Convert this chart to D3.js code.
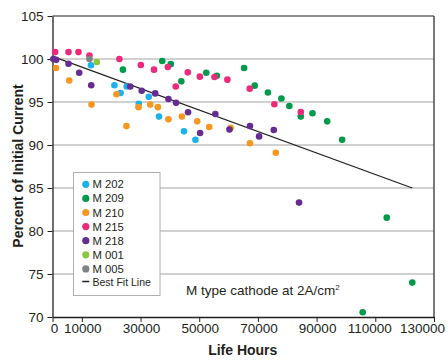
<!DOCTYPE html>
<html><head><meta charset="utf-8">
<script src="https://cdn.jsdelivr.net/npm/d3@7"></script>
<style>
html,body{margin:0;padding:0;background:#fff;}
svg{display:block;font-family:"Liberation Sans",Arial,Helvetica,sans-serif;}
</style></head>
<body>
<svg id="chart" width="448" height="360"></svg>
<script>
const seriesNames = ["M 202","M 209","M 210","M 215","M 218","M 001","M 005"];
const seriesColors = ["#1cb1ec","#009b4a","#f7971f","#ec2a7b","#652d90","#8cc63f","#808285"];
const m202 = [[13100,99.27],[21100,96.94],[23200,96.05],[25300,96.8],[29400,94.8],[32800,95.6],[36300,93.3],[44800,91.6],[48700,90.6]];
const m209 = [[24000,98.76],[37400,99.77],[40300,99.4],[43900,97.4],[52400,98.4],[56000,98.06],[65300,98.95],[68900,96.9],[73400,96.1],[78000,95.4],[80700,94.53],[84600,93.3],[88600,93.7],[93600,92.75],[98700,90.6],[105700,70.55],[113900,81.55],[122600,74.0]];
const m210 = [[1200,98.95],[5700,97.5],[13300,94.7],[21800,95.9],[25200,92.2],[29300,94.4],[33300,94.7],[35900,94.4],[39500,93.0],[44100,93.3],[49300,92.75],[53400,92.1],[60700,92.0],[67300,90.2],[76100,89.1]];
const m215 = [[900,100.8],[5450,100.8],[8850,100.8],[12600,100.4],[22800,100.0],[30100,99.3],[34600,98.76],[39300,99.07],[42000,96.8],[46100,98.45],[50200,97.95],[55200,97.9],[59600,97.6],[67200,96.55],[75600,94.73],[84600,93.84]];
const m218 = [[300,100.0],[1260,99.9],[5450,99.45],[9100,98.4],[13200,96.94],[26500,96.8],[30400,96.3],[35000,96.0],[39500,95.35],[42100,94.9],[46200,93.8],[50300,91.4],[55500,93.6],[60300,91.8],[67300,92.2],[70400,91.0],[75400,91.74],[84000,83.3]];
const m001 = [[15100,99.65]];
const m005 = [[12600,100.0]];
const bestFit = [[0,100.3],[122600,85.0]];
const xTicks = [0,10000,30000,50000,70000,90000,110000,130000];
const yTicks = [70,75,80,85,90,95,100,105];
const xTitle = "Life Hours";
const yTitle = "Percent of Initial Current";

const allSeries = [m202,m209,m210,m215,m218,m001,m005];

const svg = d3.select("#chart");
const L = 52.5, R = 434, T = 16, B = 317;
const x = d3.scaleLinear().domain([0,130000]).range([L,R]);
const y = d3.scaleLinear().domain([70,105]).range([B,T]);

// gridlines
svg.append("g").selectAll("line").data(yTicks.filter(v=>v>70 && v<105)).join("line")
  .attr("x1",L).attr("x2",R).attr("y1",d=>y(d)).attr("y2",d=>y(d))
  .attr("stroke","#a3a3a3").attr("stroke-width",1.2);

// frame top/right
svg.append("line").attr("x1",L).attr("x2",R).attr("y1",T).attr("y2",T).attr("stroke","#231f20").attr("stroke-width",1.2);
svg.append("line").attr("x1",R).attr("x2",R).attr("y1",T).attr("y2",B).attr("stroke","#231f20").attr("stroke-width",1.2);

// axes
const xAxis = svg.append("g").attr("transform",`translate(0,${B})`)
  .call(d3.axisBottom(x).tickValues(xTicks).tickFormat(d3.format("d")).tickSize(5).tickSizeOuter(0));
const yAxis = svg.append("g").attr("transform",`translate(${L},0)`)
  .call(d3.axisLeft(y).tickValues(yTicks).tickFormat(d3.format("d")).tickSize(5).tickSizeOuter(0));
[xAxis,yAxis].forEach(a=>{
  a.attr("font-size",null).attr("font-family",null);
  a.select(".domain").attr("stroke","#231f20").attr("stroke-width",1.3);
  a.selectAll(".tick line").attr("stroke","#231f20");
  a.selectAll(".tick text").attr("fill","#231f20")
    .style("font-family","\"Liberation Sans\",Arial,sans-serif");
});
// label offsets as in the reference (last two labels pulled left)
const xLabelShift = {110000:-6, 130000:-12};
xAxis.selectAll(".tick text").style("font-size","13.5px").attr("dy","0.75em").attr("y",6)
  .attr("x",d=>xLabelShift[d]||(d===0?1.5:0.5));
yAxis.selectAll(".tick text").style("font-size","13.5px").attr("x",-9);

// best fit line
svg.append("line")
  .attr("x1",x(bestFit[0][0])).attr("y1",y(bestFit[0][1]))
  .attr("x2",x(bestFit[1][0])).attr("y2",y(bestFit[1][1]))
  .attr("stroke","#231f20").attr("stroke-width",1.2);

// points
allSeries.forEach((s,i)=>{
  svg.append("g").selectAll("circle").data(s).join("circle")
    .attr("cx",d=>x(d[0])).attr("cy",d=>y(d[1])).attr("r",3.3)
    .attr("fill",seriesColors[i]);
});

// legend
const lg = svg.append("g");
lg.append("rect").attr("x",73.5).attr("y",172.5).attr("width",86.5).attr("height",123)
  .attr("fill","#fff").attr("stroke","#b0b0b0").attr("stroke-width",1);
seriesNames.forEach((n,i)=>{
  const cy = 184.3 + i*14.1;
  lg.append("circle").attr("cx",85.8).attr("cy",cy).attr("r",3.6).attr("fill",seriesColors[i]);
  lg.append("text").attr("x",92.5).attr("y",cy).attr("dy","0.36em")
    .style("font-size","11.3px").attr("fill","#231f20").text(n);
});
{
  const cy = 184.3 + 7*14.1 - 0.5;
  lg.append("line").attr("x1",82.3).attr("x2",89.3).attr("y1",cy-1).attr("y2",cy-1).attr("stroke","#231f20").attr("stroke-width",1.5);
  lg.append("text").attr("x",92.5).attr("y",cy).attr("dy","0.36em")
    .style("font-size","10.5px").attr("fill","#231f20").text("Best Fit  Line");
}

// annotation
const ann = svg.append("text").attr("x",186).attr("y",295).style("font-size","13.5px").attr("fill","#231f20");
ann.append("tspan").text("M type cathode at 2A/cm");
ann.append("tspan").style("font-size","8px").attr("dy","-5").text("2");

// titles
svg.append("text").attr("x",(L+R)/2 - 0.5).attr("y",355).attr("text-anchor","middle")
  .style("font-size","14px").attr("font-weight","bold").attr("fill","#231f20").text(xTitle);
svg.append("text").attr("transform",`translate(23,166) rotate(-90)`).attr("text-anchor","middle")
  .style("font-size","14px").attr("font-weight","bold").attr("fill","#231f20").text(yTitle);
</script>
</body></html>
